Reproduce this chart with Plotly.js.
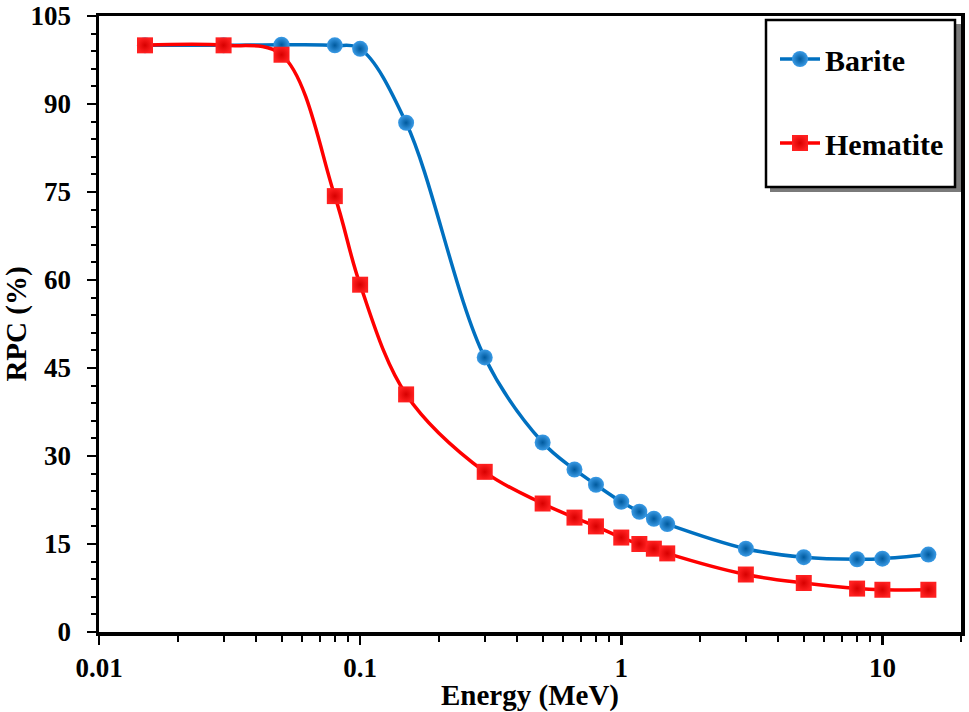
<!DOCTYPE html>
<html>
<head>
<meta charset="utf-8">
<script src="https://cdn.plot.ly/plotly-3.0.1.min.js"></script>
<style>html,body{margin:0;padding:0;background:#fff;}#chart{width:969px;height:712px;}</style>
</head>
<body>
<div id="chart"></div>
<script>
// Data
const energyBarite = [0.015, 0.03, 0.05, 0.08, 0.1, 0.15, 0.3, 0.5, 0.662, 0.8, 1, 1.173, 1.333, 1.5, 3, 5, 8, 10, 15];
const rpcBarite    = [100, 100, 100.1, 100, 99.4, 86.8, 46.8, 32.3, 27.7, 25.1, 22.2, 20.5, 19.3, 18.4, 14.2, 12.75, 12.4, 12.5, 13.2];
const energyHematite = [0.015, 0.03, 0.05, 0.08, 0.1, 0.15, 0.3, 0.5, 0.662, 0.8, 1, 1.173, 1.333, 1.5, 3, 5, 8, 10, 15];
const rpcHematite    = [100, 100, 98.4, 74.3, 59.2, 40.5, 27.3, 21.9, 19.5, 18.0, 16.1, 15.0, 14.2, 13.4, 9.8, 8.35, 7.4, 7.2, 7.2];
const xTickVals = [0.01, 0.1, 1, 10];
const xTickText = ['0.01', '0.1', '1', '10'];
const yTickVals = [0, 15, 30, 45, 60, 75, 90, 105];
const seriesNames = ['Barite', 'Hematite'];

// plot-area pixel geometry for overlay shapes
const L = 99, R = 961, T = 16, B = 632;
const px = v => (v - L) / (R - L);
const py = v => (B - v) / (B - T);

const fam = 'Liberation Serif, Times New Roman, serif';
const tickFont = {family: fam, size: 27, color: '#000', weight: 'bold'};
const titleFont = {family: fam, size: 29, color: '#000', weight: 'bold'};

const traces = [
  {
    x: energyBarite, y: rpcBarite, name: seriesNames[0], legendgroup: 'a',
    type: 'scatter', mode: 'lines+markers', cliponaxis: false,
    line: {color: '#0070C0', width: 3.5, shape: 'spline', smoothing: 1},
    marker: {symbol: 'circle', size: 16, color: '#3a9be6', line: {width: 0},
             gradient: {type: 'radial', color: '#005a9e'}}
  },
  {
    x: energyHematite, y: rpcHematite, name: seriesNames[1], legendgroup: 'b',
    type: 'scatter', mode: 'lines+markers', cliponaxis: false,
    line: {color: '#FF0000', width: 3.5, shape: 'spline', smoothing: 1},
    marker: {symbol: 'square', size: 16, color: '#ff2020', line: {width: 0},
             gradient: {type: 'radial', color: '#d80000'}}
  }
];

const layout = {
  width: 969, height: 712,
  margin: {l: L, r: 969 - R, t: T, b: 712 - B, pad: 0},
  paper_bgcolor: '#fff', plot_bgcolor: '#fff',
  font: tickFont,
  showlegend: true,
  legend: {
    x: px(775), y: py(33), xanchor: 'left', yanchor: 'top',
    bgcolor: 'rgba(0,0,0,0)', borderwidth: 0, itemwidth: 40,
    font: {family: fam, size: 30, color: '#000', weight: 'bold'},
    traceorder: 'grouped', tracegroupgap: 42
  },
  xaxis: {
    type: 'log', range: [-2, Math.log10(20)],
    tickvals: xTickVals, ticktext: xTickText,
    ticks: 'outside', ticklen: 9, tickwidth: 2.5, tickcolor: '#000',
    ticklabelstandoff: 0, ticklabeloverflow: 'allow',
    minor: {ticks: 'outside', ticklen: 6, tickwidth: 2, tickcolor: '#000', dtick: 'D1', showgrid: false},
    showline: true, linewidth: 3.5, linecolor: '#000', mirror: true,
    showgrid: false, zeroline: false,
    tickfont: tickFont,
    title: {text: 'Energy (MeV)', font: titleFont, standoff: 0}
  },
  yaxis: {
    range: [0, 105.001], tickvals: yTickVals,
    ticks: 'outside', ticklen: 9, tickwidth: 2.5, tickcolor: '#000',
    ticklabelstandoff: 10, ticklabeloverflow: 'allow',
    minor: {ticks: 'outside', ticklen: 5, tickwidth: 2, tickcolor: '#000', dtick: 3, tick0: 0, showgrid: false},
    showline: true, linewidth: 3.5, linecolor: '#000', mirror: true,
    showgrid: false, zeroline: false,
    tickfont: tickFont,
    title: {text: 'RPC (%)', font: titleFont, standoff: 0}
  },
  shapes: [
    {type: 'rect', xref: 'paper', yref: 'paper', layer: 'above',
     x0: px(770), x1: px(961), y0: py(192), y1: py(24),
     fillcolor: '#7a7a7a', line: {width: 0}},
    {type: 'rect', xref: 'paper', yref: 'paper', layer: 'above',
     x0: px(766), x1: px(955), y0: py(187), y1: py(20),
     fillcolor: '#ffffff', line: {color: '#000', width: 2.5}}
  ]
};

Plotly.newPlot('chart', traces, layout, {displayModeBar: false, staticPlot: true});
</script>
</body>
</html>
